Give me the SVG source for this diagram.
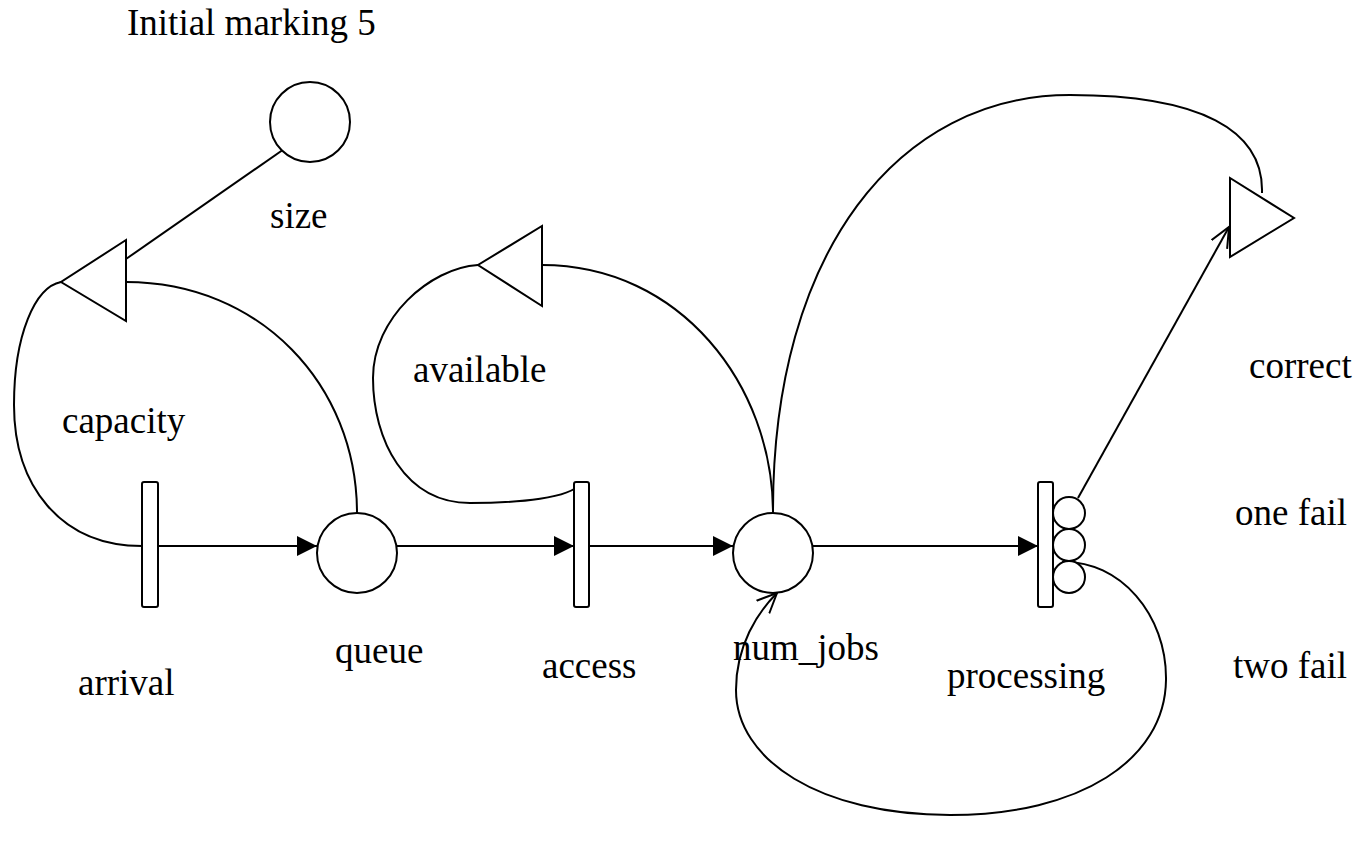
<svg xmlns="http://www.w3.org/2000/svg" width="1359" height="850" viewBox="0 0 1359 850">
  <style>
    .shape { fill: #fff; stroke: #000; stroke-width: 2; }
    .arc { fill: none; stroke: #000; stroke-width: 2; }
    .lbl { font-family: "Liberation Serif", "Times New Roman", serif; font-size: 37px; fill: #000; }
  </style>
  <defs>
    <marker id="solid" markerUnits="userSpaceOnUse" markerWidth="22" markerHeight="22" refX="20" refY="10" orient="auto">
      <path d="M0,0 L20,10 L0,20 Z" fill="#000"/>
    </marker>
    <marker id="open" markerUnits="userSpaceOnUse" markerWidth="24" markerHeight="24" refX="20" refY="10" orient="auto">
      <path d="M0,1 L20,10 L0,19" fill="none" stroke="#000" stroke-width="2"/>
    </marker>
  </defs>

  <rect width="1359" height="850" fill="#fff"/>

  <text class="lbl" x="127" y="35">Initial marking 5</text>

  <!-- connectors -->
  <g id="connectors">
    <line class="arc" x1="158" y1="546" x2="317" y2="546" marker-end="url(#solid)"/>
    <line class="arc" x1="397" y1="546" x2="574" y2="546" marker-end="url(#solid)"/>
    <line class="arc" x1="589" y1="546" x2="733" y2="546" marker-end="url(#solid)"/>
    <line class="arc" x1="813" y1="546" x2="1038" y2="546" marker-end="url(#solid)"/>
    <!-- size -> capacity -->
    <line class="arc" x1="287" y1="147" x2="126" y2="259"/>
    <!-- queue -> capacity -->
    <path class="arc" d="M357,513 C357,385 260,282 126,282"/>
    <!-- capacity loop back to arrival -->
    <path class="arc" d="M142,546 C60,546 14,485 14,405 C14,335 35,287 61,282"/>
    <!-- num_jobs -> available -->
    <path class="arc" d="M773,513 C773,385 680,265 542,265"/>
    <!-- available loop back to access -->
    <path class="arc" d="M580,484 C570,498 520,503 470,503 C405,503 373,440 373,378 C373,318 430,268 478,265"/>
    <!-- num_jobs -> correct -->
    <path class="arc" d="M773,513 C772,250 900,95 1070,95 C1200,95 1264,130 1262,193"/>
    <!-- processing -> correct -->
    <line class="arc" x1="1078" y1="498" x2="1229" y2="227" marker-end="url(#open)"/>
    <!-- two fail loop back to num_jobs -->
    <path class="arc" d="M1062,562 C1120,560 1167,615 1166,680 C1165,760 1080,815 950,815 C820,815 736,760 736,690 C736,645 758,612 777,593" marker-end="url(#open)"/>
  </g>

  <!-- places -->
  <g id="size">
    <circle class="shape" cx="310" cy="122" r="40"/>
    <text class="lbl" x="270" y="228">size</text>
  </g>
  <g id="queue">
    <circle class="shape" cx="357" cy="553" r="40"/>
    <text class="lbl" x="335" y="663">queue</text>
  </g>
  <g id="num_jobs">
    <circle class="shape" cx="773" cy="553" r="40"/>
    <text class="lbl" x="733" y="660">num_jobs</text>
  </g>

  <!-- transitions -->
  <g id="arrival">
    <rect class="shape" x="142" y="482" width="16" height="125" rx="2"/>
    <text class="lbl" x="78" y="695">arrival</text>
  </g>
  <g id="access">
    <rect class="shape" x="574" y="482" width="15" height="125" rx="2"/>
    <text class="lbl" x="542" y="678">access</text>
  </g>
  <g id="processing">
    <rect class="shape" x="1038" y="482" width="15" height="125" rx="2"/>
    <circle class="shape" cx="1069" cy="513" r="16"/>
    <circle class="shape" cx="1069" cy="545" r="16"/>
    <circle class="shape" cx="1069" cy="577" r="16"/>
    <text class="lbl" x="947" y="688">processing</text>
  </g>

  <!-- conditions -->
  <g id="capacity">
    <polygon class="shape" points="126,240 126,321 61,282"/>
    <text class="lbl" x="62" y="433">capacity</text>
  </g>
  <g id="available">
    <polygon class="shape" points="542,226 542,306 478,265"/>
    <text class="lbl" x="413" y="382">available</text>
  </g>
  <g id="correct">
    <polygon class="shape" points="1230,178 1230,257 1294,218"/>
    <text class="lbl" x="1249" y="378">correct</text>
  </g>

  <text class="lbl" x="1235" y="525">one fail</text>
  <text class="lbl" x="1233" y="678">two fail</text>
</svg>
